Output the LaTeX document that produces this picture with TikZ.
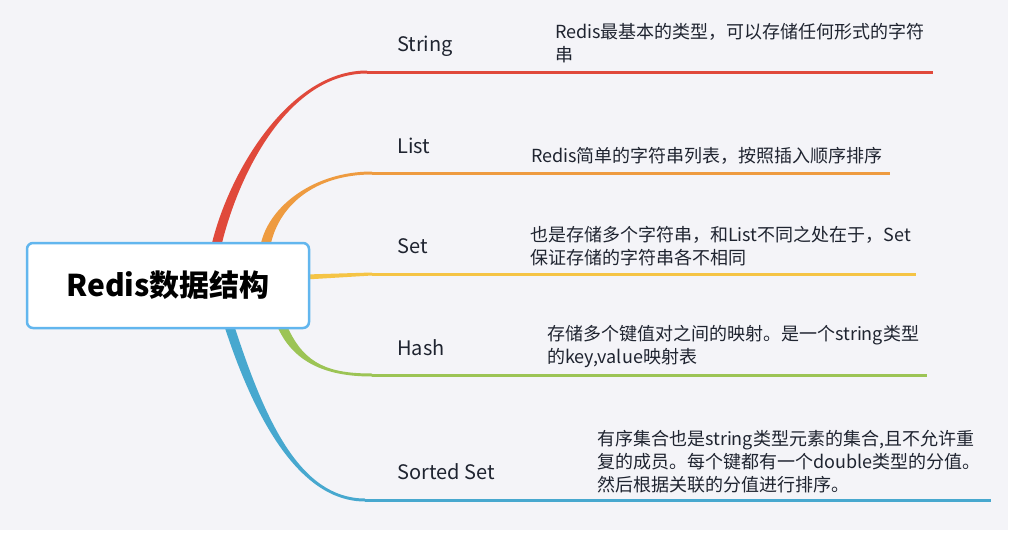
\documentclass[tikz,border=0pt]{standalone}
\usepackage{fontspec}
\setmainfont{Noto Sans CJK SC}
\usetikzlibrary{calc}

\definecolor{bgpaper}{HTML}{F4F4F8}
\definecolor{rootblue}{HTML}{62B6EE}
\definecolor{cstring}{HTML}{E0493B}
\definecolor{clist}{HTML}{EE9B40}
\definecolor{cset}{HTML}{F5C445}
\definecolor{chash}{HTML}{9CC455}
\definecolor{csorted}{HTML}{47A8CF}
\definecolor{inkgray}{HTML}{1F2430}

% tapered branch: colour, start, control 1, control 2, end, +1 going up / -1 going down
\newcommand\branch[6]{%
  \fill[#1] ($(#2)+(-5,0)$) .. controls ($(#3)+(-5,0)$) and ($(#4)+(0,{-1.5*(#6)})$) .. ($(#5)+(0,{-1.5*(#6)})$)
    -- ($(#5)+(0,{1.5*(#6)})$) .. controls ($(#4)+(0,{1.5*(#6)})$) and ($(#3)+(5,0)$) .. ($(#2)+(5,0)$) -- cycle;}

\begin{document}
\begin{tikzpicture}[x=1pt, y=-1pt,
  topic/.style={anchor=base west, inner sep=0pt, text=inkgray, font=\fontsize{20}{24}\selectfont},
  note/.style={anchor=base west, inner sep=0pt, align=left, text=inkgray, font=\fontsize{18}{23}\selectfont}]
  \useasboundingbox (0,0) rectangle (1014,535);
  \fill[bgpaper] (0,0) rectangle (1008,530);

  % where the branches leave the root box and where they turn flat
  \coordinate (rString) at (217,243);
  \coordinate (rList) at (266,243);
  \coordinate (rSet) at (306,277);
  \coordinate (rHash) at (283,328);
  \coordinate (rSorted) at (230,328);
  \coordinate (eString) at (367,72);
  \coordinate (eList) at (372,173);
  \coordinate (eSet) at (372,274);
  \coordinate (eHash) at (372,375);
  \coordinate (eSorted) at (365,500);
  \coordinate (fString) at (933,72);
  \coordinate (fList) at (890,173);
  \coordinate (fSet) at (916,274);
  \coordinate (fHash) at (927,375);
  \coordinate (fSorted) at (991,500);

  \branch{cstring}{rString}{235,170}{290,72}{eString}{1}
  \branch{clist}{rList}{275,205}{315,173}{eList}{1}
  \branch{chash}{rHash}{300,365}{330,375}{eHash}{-1}
  \branch{csorted}{rSorted}{260,420}{300,500}{eSorted}{-1}
  \fill[cset] ($(rSet)+(0,-2.5)$) -- ($(eSet)+(0,-1.5)$) -- ($(eSet)+(0,1.5)$) -- ($(rSet)+(0,2.5)$) -- cycle;

  \draw[cstring, line width=3pt] (eString) -- (fString);
  \draw[clist, line width=3pt] (eList) -- (fList);
  \draw[cset, line width=3pt] (eSet) -- (fSet);
  \draw[chash, line width=3pt] (eHash) -- (fHash);
  \draw[csorted, line width=3pt] (eSorted) -- (fSorted);

  \node[draw=rootblue, line width=2.5pt, rounded corners=6pt, fill=white, minimum width=282pt,
    minimum height=85pt, inner sep=0pt, text=black, font=\bfseries\fontsize{30}{36}\selectfont]
    (root) at (168,285.5) {Redis数据结构};

  \node[topic] (tString) at (397,52) {String};
  \node[topic] (tList) at (397,153) {List};
  \node[topic] (tSet) at (397,253) {Set};
  \node[topic] (tHash) at (397,355) {Hash};
  \node[topic] (tSorted) at (397,479) {Sorted Set};

  % notes sit on the baseline of their last line
  \node[note] (nString) at (555,62) {Redis最基本的类型，可以存储任何形式的字符\\串};
  \node[note] (nList) at (531,162) {Redis简单的字符串列表，按照插入顺序排序};
  \node[note] (nSet) at (530,264) {也是存储多个字符串，和List不同之处在于，Set\\保证存储的字符串各不相同};
  \node[note] (nHash) at (547,363) {存储多个键值对之间的映射。是一个string类型\\的key,value映射表};
  \node[note] (nSorted) at (597,491) {有序集合也是string类型元素的集合,且不允许重\\复的成员。每个键都有一个double类型的分值。\\然后根据关联的分值进行排序。};
\end{tikzpicture}
\end{document}
